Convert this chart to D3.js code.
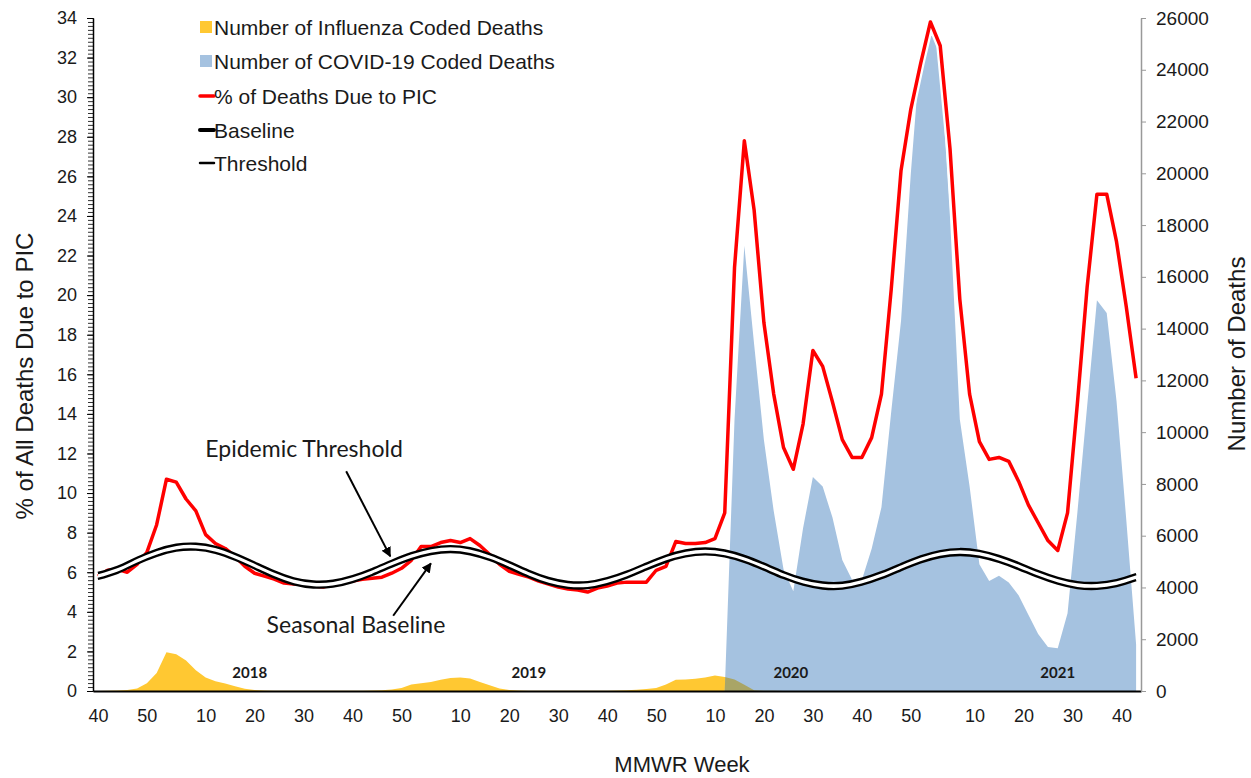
<!DOCTYPE html>
<html>
<head>
<meta charset="utf-8">
<script src="https://cdn.jsdelivr.net/npm/d3@7"></script>
<style>
  body { margin: 0; background: #fff; }
  #chart { width: 1251px; height: 778px; }
  text { font-family: Arial, "Liberation Sans", sans-serif; fill: #1a1a1a; }
  .note { font-family: Lato, "Open Sans", sans-serif; }
</style>
</head>
<body>
<div id="chart"></div>
<script>
// week index 0 = MMWR week 40 of 2017, one value every 2 weeks
var picPct = [5.8, 6.1, 6.15, 6.0, 6.4, 7.0, 8.4, 10.7, 10.55, 9.7,
    9.1, 7.9, 7.45, 7.2, 6.8, 6.3, 5.95, 5.8, 5.65, 5.45,
    5.4, 5.4, 5.3, 5.25, 5.4, 5.5, 5.55, 5.65, 5.7, 5.75,
    5.95, 6.2, 6.6, 7.3, 7.3, 7.5, 7.6, 7.5, 7.7, 7.35,
    6.9, 6.4, 6.05, 5.9, 5.75, 5.55, 5.4, 5.25, 5.15, 5.1,
    5.0, 5.2, 5.3, 5.45, 5.5, 5.5, 5.5, 6.1, 6.3, 7.55,
    7.45, 7.45, 7.5, 7.7, 9.0, 21.4, 27.8, 24.3, 18.6, 15.0,
    12.3, 11.2, 13.5, 17.2, 16.4, 14.6, 12.7, 11.8, 11.8, 12.8,
    15.0, 20.3, 26.3, 29.4, 31.7, 33.8, 32.6, 27.4, 19.8, 15.0,
    12.6, 11.7, 11.8, 11.6, 10.6, 9.4, 8.5, 7.6, 7.1, 9.0,
    14.5, 20.4, 25.1, 25.1, 22.7, 19.4, 15.8];

var fluDeaths = [0, 10, 20, 40, 100, 300, 700, 1500, 1420, 1180,
    800, 520, 380, 290, 180, 90, 40, 20, 10, 10,
    10, 5, 5, 5, 5, 5, 10, 10, 20, 30,
    60, 120, 250, 300, 350, 430, 500, 520, 480, 350,
    220, 100, 40, 20, 10, 10, 5, 5, 5, 5,
    5, 10, 10, 20, 30, 50, 80, 120, 250, 430,
    440, 470, 520, 600, 540, 440, 240, 30, 10, 5,
    0, 0, 0, 0, 0, 0, 0, 0, 0, 0,
    0, 0, 0, 0, 0, 0, 0, 0, 0, 0,
    0, 0, 0, 0, 0, 0, 0, 0, 0, 0,
    0, 0, 0, 0, 0, 0, 0];

var covidDeaths = [0, 0, 0, 0, 0, 0, 0, 0, 0, 0,
    0, 0, 0, 0, 0, 0, 0, 0, 0, 0,
    0, 0, 0, 0, 0, 0, 0, 0, 0, 0,
    0, 0, 0, 0, 0, 0, 0, 0, 0, 0,
    0, 0, 0, 0, 0, 0, 0, 0, 0, 0,
    0, 0, 0, 0, 0, 0, 0, 0, 0, 0,
    0, 0, 0, 0, 0, 10500, 17200, 13400, 9700, 6950,
    4700, 3850, 6300, 8270, 7900, 6700, 5060, 4300, 4290, 5500,
    7100, 10800, 14300, 20000, 24800, 25700, 24400, 18300, 10500, 7900,
    4900, 4250, 4450, 4190, 3700, 2950, 2200, 1700, 1650, 3000,
    6880, 11000, 15100, 14600, 11200, 6600, 1800];

// one value every 4 weeks
var baseline = [5.66, 5.97, 6.43, 6.83, 7.09, 7.14, 6.98, 6.63, 6.19, 5.74,
    5.39, 5.23, 5.27, 5.5, 5.86, 6.28, 6.66, 6.92, 7.02, 6.91,
    6.62, 6.21, 5.77, 5.41, 5.21, 5.2, 5.4, 5.73, 6.14, 6.53,
    6.8, 6.9, 6.8, 6.52, 6.13, 5.71, 5.37, 5.18, 5.17, 5.37,
    5.7, 6.11, 6.5, 6.77, 6.87, 6.78, 6.52, 6.16, 5.76, 5.42,
    5.2, 5.16, 5.3, 5.6];

var threshold = [5.96, 6.27, 6.73, 7.13, 7.39, 7.44, 7.28, 6.93, 6.49, 6.04,
    5.69, 5.53, 5.57, 5.8, 6.16, 6.58, 6.96, 7.22, 7.32, 7.21,
    6.92, 6.51, 6.07, 5.71, 5.51, 5.5, 5.7, 6.03, 6.44, 6.83,
    7.1, 7.2, 7.1, 6.82, 6.43, 6.01, 5.67, 5.48, 5.47, 5.67,
    6.0, 6.41, 6.8, 7.07, 7.17, 7.08, 6.82, 6.46, 6.06, 5.72,
    5.5, 5.46, 5.6, 5.9];

var tickWeeks = [0, 10, 22, 32, 42, 52, 62, 74, 84, 94, 104, 114, 126, 136, 146, 156, 166, 179, 189, 199, 209];
var tickLabels = ['40', '50', '10', '20', '30', '40', '50', '10', '20', '30', '40', '50', '10', '20', '30', '40', '50', '10', '20', '30', '40'];
var years = ['2018', '2019', '2020', '2021'];
var yearWeeks = [31, 88, 141.5, 196];

var width = 1251,
    height = 778,
    plotLeft = 93,
    plotRight = 1141,
    plotTop = 18,
    plotBottom = 691;

var svg = d3.select('#chart').append('svg')
    .attr('width', width)
    .attr('height', height);

var x = d3.scaleLinear().domain([-1, 213]).range([plotLeft, plotRight]);
var yL = d3.scaleLinear().domain([0, 34]).range([plotBottom, plotTop]);
var yR = d3.scaleLinear().domain([0, 26000]).range([plotBottom, plotTop]);

var rows2 = picPct.map(function(d, i) {
    return { wk: i * 2, pic: d, flu: fluDeaths[i], covid: covidDeaths[i] };
});
var rows4 = baseline.map(function(d, i) {
    return { wk: i * 4, base: d, thr: threshold[i] };
});

var fluArea = d3.area()
    .x(function(d) { return x(d.wk); })
    .y0(yR(0))
    .y1(function(d) { return yR(d.flu); });

var covidArea = d3.area()
    .x(function(d) { return x(d.wk); })
    .y0(yR(0))
    .y1(function(d) { return yR(d.covid); });

svg.append('defs').append('clipPath')
    .attr('id', 'covidClip')
    .append('path')
    .attr('d', covidArea(rows2));

svg.append('path').attr('d', fluArea(rows2)).attr('fill', '#ffc832');
svg.append('path').attr('d', covidArea(rows2)).attr('fill', '#a5c2e0');
svg.append('path').attr('d', fluArea(rows2)).attr('fill', '#a9a566')
    .attr('clip-path', 'url(#covidClip)');

var picLine = d3.line()
    .x(function(d) { return x(d.wk); })
    .y(function(d) { return yL(d.pic); });

svg.append('path').attr('d', picLine(rows2))
    .attr('fill', 'none').attr('stroke', '#fff').attr('stroke-width', 8)
    .attr('stroke-linejoin', 'round');
svg.append('path').attr('d', picLine(rows2))
    .attr('fill', 'none').attr('stroke', '#ff0000').attr('stroke-width', 3.5)
    .attr('stroke-linejoin', 'round');

// white band between the two curves, then the curves
var band = d3.area()
    .curve(d3.curveNatural)
    .x(function(d) { return x(d.wk); })
    .y0(function(d) { return yL(d.base); })
    .y1(function(d) { return yL(d.thr); });

svg.append('path').attr('d', band(rows4)).attr('fill', '#fff');

['base', 'thr'].forEach(function(key) {
    var ln = d3.line()
        .curve(d3.curveNatural)
        .x(function(d) { return x(d.wk); })
        .y(function(d) { return yL(d[key]); });
    svg.append('path').attr('d', ln(rows4))
        .attr('fill', 'none').attr('stroke', '#000').attr('stroke-width', 2.4);
});

// year labels
svg.selectAll('.year').data(years).enter().append('text')
    .attr('class', 'note')
    .attr('x', function(d, i) { return x(yearWeeks[i]); })
    .attr('y', 678)
    .attr('text-anchor', 'middle')
    .attr('font-size', 15)
    .attr('font-weight', 'bold')
    .text(function(d) { return d; });

// annotations
svg.append('defs').append('marker')
    .attr('id', 'arrow')
    .attr('viewBox', '0 0 10 10')
    .attr('refX', 9).attr('refY', 5)
    .attr('markerWidth', 5).attr('markerHeight', 5)
    .attr('orient', 'auto')
    .append('path').attr('d', 'M0,0L10,5L0,10z').attr('fill', '#000');

var notes = [
    { text: 'Epidemic Threshold', tx: 42.1, ty: 11.8, fx: 50.7, fy: 11.1, ax: 59.7, ay: 6.8 },
    { text: 'Seasonal Baseline', tx: 52.7, ty: 2.95, fx: 60.3, fy: 3.8, ax: 68.0, ay: 6.45 }
];
notes.forEach(function(n) {
    svg.append('line')
        .attr('x1', x(n.fx)).attr('y1', yL(n.fy))
        .attr('x2', x(n.ax)).attr('y2', yL(n.ay))
        .attr('stroke', '#000').attr('stroke-width', 2)
        .attr('marker-end', 'url(#arrow)');
    svg.append('text')
        .attr('class', 'note')
        .attr('x', x(n.tx)).attr('y', yL(n.ty))
        .attr('text-anchor', 'middle')
        .attr('font-size', 23)
        .text(n.text);
});

// axes
var gx = svg.append('g')
    .attr('transform', 'translate(0,' + plotBottom + ')')
    .call(d3.axisBottom(x).tickValues(tickWeeks)
        .tickFormat(function(d, i) { return tickLabels[i]; })
        .tickSize(0).tickPadding(18));
gx.select('.domain').attr('stroke', '#000').attr('stroke-width', 2);
gx.selectAll('text').attr('font-size', 18).attr('fill', '#1a1a1a')
    .attr('font-family', 'Arial, "Liberation Sans", sans-serif');

var gMinor = svg.append('g')
    .attr('transform', 'translate(' + plotLeft + ',0)')
    .call(d3.axisLeft(yL).tickValues(d3.range(0, 34.01, 0.2))
        .tickFormat('').tickSize(6).tickSizeOuter(0));
gMinor.selectAll('.tick line').attr('stroke', '#333').attr('transform', 'translate(1,0)');

var gy = svg.append('g')
    .attr('transform', 'translate(' + plotLeft + ',0)')
    .call(d3.axisLeft(yL).tickValues(d3.range(0, 35, 2))
        .tickSize(6).tickSizeOuter(0).tickPadding(10));
gy.select('.domain').attr('stroke', '#000').attr('stroke-width', 1.5);
gy.selectAll('text').attr('font-size', 18).attr('fill', '#1a1a1a')
    .attr('font-family', 'Arial, "Liberation Sans", sans-serif');

var gr = svg.append('g')
    .attr('transform', 'translate(' + plotRight + ',0)')
    .call(d3.axisRight(yR).tickValues(d3.range(0, 26001, 2000))
        .tickFormat(d3.format('d'))
        .tickSize(5).tickSizeOuter(0).tickPadding(10));
gr.select('.domain').attr('stroke', '#999').attr('stroke-width', 1.5);
gr.selectAll('.tick line').attr('stroke', '#999');
gr.selectAll('text').attr('font-size', 19).attr('fill', '#1a1a1a')
    .attr('font-family', 'Arial, "Liberation Sans", sans-serif');

// axis titles
svg.append('text')
    .attr('transform', 'translate(33,376) rotate(-90)')
    .attr('text-anchor', 'middle')
    .attr('font-size', 24)
    .text('% of All Deaths Due to PIC');

svg.append('text')
    .attr('transform', 'translate(1245,354) rotate(-90)')
    .attr('text-anchor', 'middle')
    .attr('font-size', 24)
    .text('Number of Deaths');

svg.append('text')
    .attr('x', 682).attr('y', 772)
    .attr('text-anchor', 'middle')
    .attr('font-size', 22)
    .text('MMWR Week');

// legend
var legend = [
    { label: 'Number of Influenza Coded Deaths', type: 'box', color: '#ffc832' },
    { label: 'Number of COVID-19 Coded Deaths', type: 'box', color: '#a5c2e0' },
    { label: '% of Deaths Due to PIC', type: 'line', color: '#ff0000', w: 3.5 },
    { label: 'Baseline', type: 'line', color: '#000', w: 4 },
    { label: 'Threshold', type: 'line', color: '#000', w: 2.5 }
];
var legendY = [27, 61, 96, 130, 163];

var lg = svg.append('g').selectAll('g').data(legend).enter().append('g')
    .attr('transform', function(d, i) { return 'translate(200,' + legendY[i] + ')'; });

lg.filter(function(d) { return d.type === 'box'; }).append('rect')
    .attr('x', 0).attr('y', -6).attr('width', 12).attr('height', 12)
    .attr('fill', function(d) { return d.color; });

lg.filter(function(d) { return d.type === 'line'; }).append('line')
    .attr('x1', 0).attr('x2', 14).attr('y1', 0).attr('y2', 0)
    .attr('stroke', function(d) { return d.color; })
    .attr('stroke-width', function(d) { return d.w; })
    .attr('stroke-linecap', 'round');

lg.append('text')
    .attr('x', 14).attr('y', 7.5)
    .attr('font-size', 21)
    .text(function(d) { return d.label; });
</script>
</body>
</html>
